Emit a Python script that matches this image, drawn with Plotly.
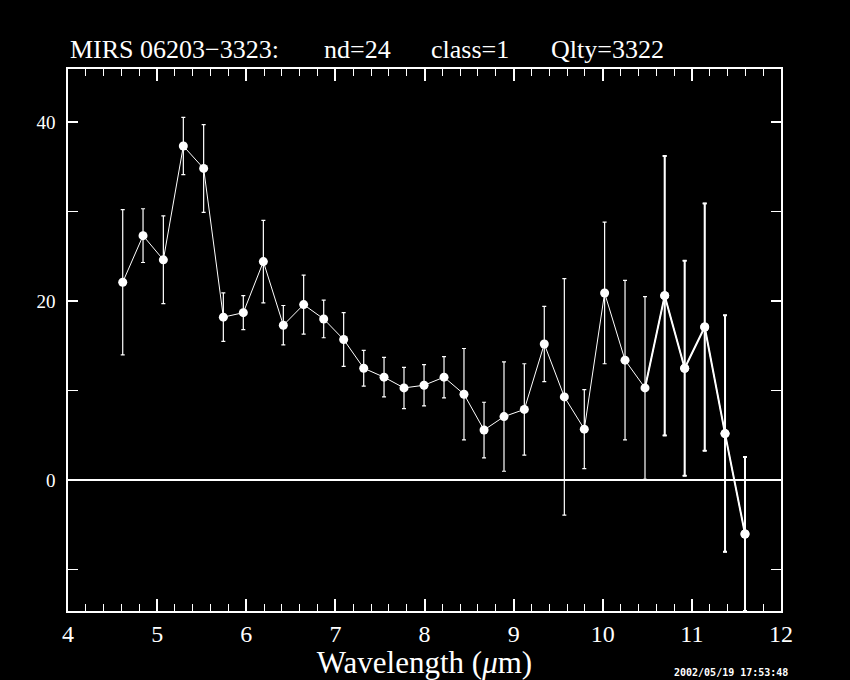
import plotly.graph_objects as go

# --- data ---
wavelength = [4.614, 4.842, 5.070, 5.294, 5.522, 5.743, 5.967, 6.192, 6.416, 6.644,
              6.869, 7.093, 7.318, 7.546, 7.770, 7.995, 8.219, 8.443, 8.668, 8.892,
              9.120, 9.344, 9.569, 9.793, 10.021, 10.250, 10.474, 10.695, 10.919, 11.144,
              11.372, 11.596]
flux = [22.1, 27.3, 24.6, 37.3, 34.8, 18.2, 18.7, 24.4, 17.3, 19.6,
        18.0, 15.7, 12.5, 11.5, 10.3, 10.6, 11.5, 9.6, 5.6, 7.1,
        7.9, 15.2, 9.3, 5.7, 20.9, 13.4, 10.3, 20.6, 12.5, 17.1,
        5.2, -6.0]
flux_err = [8.1, 3.0, 4.9, 3.2, 4.9, 2.7, 1.9, 4.6, 2.2, 3.3,
            2.1, 3.0, 2.0, 2.2, 2.3, 2.3, 2.3, 5.1, 3.1, 6.1,
            5.1, 4.2, 13.2, 4.4, 7.9, 8.9, 10.2, 15.6, 12.0, 13.8,
            13.2, 8.6]

title_parts = ["MIRS 06203\u22123323:", "nd=24", "class=1", "Qlty=3322"]
x_ticks = [4, 5, 6, 7, 8, 9, 10, 11, 12]
y_ticks = [0, 20, 40]
timestamp = "2002/05/19 17:53:48"

FONT = "Liberation Serif"
W, H = 850, 680
ML, MR, MT, MB = 68, 69, 69, 69
PW = W - ML - MR
PH = H - MT - MB

fig = go.Figure()

# main series, thin
fig.add_trace(go.Scatter(
    x=wavelength, y=flux, mode="lines+markers",
    line=dict(color="white", width=1),
    marker=dict(color="white", size=9, symbol="circle"),
    error_y=dict(type="data", array=flux_err, visible=True,
                 color="white", thickness=1.2, width=2),
    showlegend=False, hoverinfo="x+y",
))
# heavier pen used for the final points
k = 26
fig.add_trace(go.Scatter(
    x=wavelength[k:], y=flux[k:], mode="lines",
    line=dict(color="white", width=2),
    showlegend=False, hoverinfo="skip",
))
fig.add_trace(go.Scatter(
    x=wavelength[k + 1:], y=flux[k + 1:], mode="markers",
    marker=dict(color="white", size=9),
    error_y=dict(type="data", array=flux_err[k + 1:], visible=True,
                 color="white", thickness=2, width=2),
    showlegend=False, hoverinfo="skip",
))

axis_common = dict(
    showgrid=False, showline=True, linecolor="white", linewidth=1.5,
    mirror="allticks", ticks="inside", tickcolor="white", tickwidth=1.5,
    color="white", automargin=False,
)

fig.update_xaxes(
    range=[4, 12], tickvals=x_ticks, ticklen=12,
    tickfont=dict(family=FONT, size=24, color="white"),
    minor=dict(dtick=0.2, ticklen=7, ticks="inside", tickcolor="white", tickwidth=1.2),
    title=dict(text="Wavelength (<i>\u03bc</i>m)", font=dict(family=FONT, size=31, color="white"),
               standoff=3),
    zeroline=False,
    **axis_common,
)
fig.update_yaxes(
    range=[-14.6, 45.9], tickvals=y_ticks, ticklen=10,
    tickfont=dict(family=FONT, size=19, color="white"),
    minor=dict(dtick=10, ticklen=10, ticks="inside", tickcolor="white", tickwidth=1.2),
    zeroline=True, zerolinecolor="white", zerolinewidth=2,
    ticklabelstandoff=7,
    **axis_common,
)

# title pieces positioned along the top
title_px = [68, 322, 429, 549]
annotations = []
for txt, px in zip(title_parts, title_px):
    annotations.append(dict(
        text=txt, x=(px - ML) / PW, y=1.0 + (MT - 50) / PH, xref="paper", yref="paper",
        xanchor="left", yanchor="middle", showarrow=False,
        font=dict(family=FONT, size=26, color="white"),
    ))
annotations.append(dict(
    text="<b>" + timestamp + "</b>", x=(790 - ML) / PW, y=-(665 - (H - MB)) / PH,
    xref="paper", yref="paper", xanchor="right", yanchor="top", showarrow=False,
    font=dict(family="DejaVu Sans Mono", size=10, color="white"),
))

fig.update_layout(
    width=W, height=H,
    margin=dict(l=ML, r=MR, t=MT, b=MB, pad=0),
    paper_bgcolor="black", plot_bgcolor="black",
    annotations=annotations,
    showlegend=False,
)

fig.write_html(
    "out.html",
    config={"displayModeBar": False},
    post_script="document.body.style.margin='0';document.body.style.background='black';",
)
